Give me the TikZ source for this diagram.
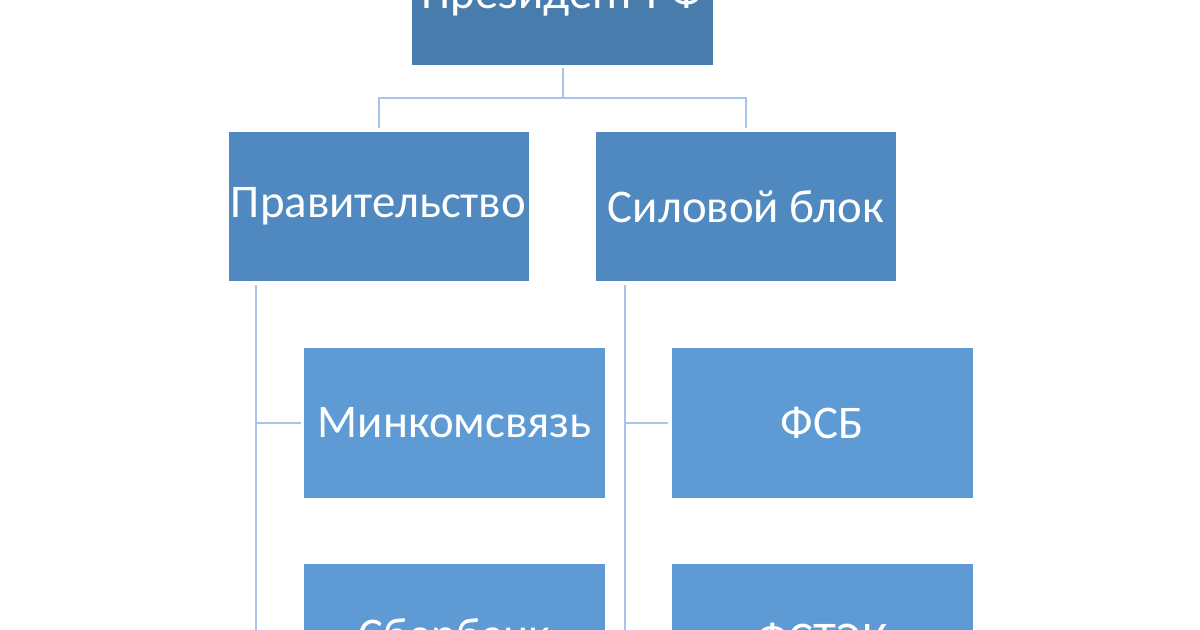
\documentclass[tikz,border=0pt]{standalone}
\usepackage{fontspec}
\setmainfont{Carlito}
\usetikzlibrary{calc}
\definecolor{topfill}{RGB}{72,124,172}
\definecolor{midfill}{RGB}{80,137,192}
\definecolor{lowfill}{RGB}{94,155,213}
\definecolor{linecol}{RGB}{168,197,233}
\tikzset{
  orgbox/.style={draw=none, inner sep=0pt, text=white, font=\fontsize{47}{56}\selectfont,
    minimum width=300bp, minimum height=148bp},
  topbox/.style={orgbox, fill=topfill},
  midbox/.style={orgbox, fill=midfill},
  lowbox/.style={orgbox, fill=lowfill, minimum width=301bp, minimum height=149bp},
  conn/.style={draw=linecol, line width=2bp}
}
\begin{document}
\begin{tikzpicture}[x=1bp,y=-1bp]
\useasboundingbox (0,0) rectangle (1200,630);
\fill[white] (0,0) rectangle (1200,630);
\node[topbox, minimum width=301bp, minimum height=137bp] (pres) at (562.5,-3.5) {Президент РФ};
\node[midbox] (prav) at (378.5,206.5) {Правительство};
\node[midbox] (silov) at (746,206.5) {Силовой блок};
\node[lowbox] (mink) at (454.5,423) {Минкомсвязь};
\node[lowbox] (fsb) at (822,423) {ФСБ};
\node[lowbox] (sber) at (454.5,638.5) {Сбербанк};
\node[lowbox] (fstek) at (822,638.5) {ФСТЭК};
\coordinate (lb) at ($(prav.south west)+(28,4)$);
\coordinate (rb) at ($(silov.south west)+(29,4)$);
\coordinate (bar) at ($(pres.south)+(0,32.5)$);
% top connectors
\draw[conn] ($(pres.south)+(0,3)$) -- (bar) -| ($(prav.north)+(0,-4)$);
\draw[conn] (bar) -| ($(silov.north)+(0,-4)$);
% left branch
\draw[conn] (lb) |- ($(sber.west)+(-3,0)$);
\draw[conn] (lb |- mink.west) -- ($(mink.west)+(-3,0)$);
% right branch
\draw[conn] (rb) |- ($(fstek.west)+(-3,0)$);
\draw[conn] (rb |- fsb.west) -- ($(fsb.west)+(-3,0)$);
\end{tikzpicture}
\end{document}
